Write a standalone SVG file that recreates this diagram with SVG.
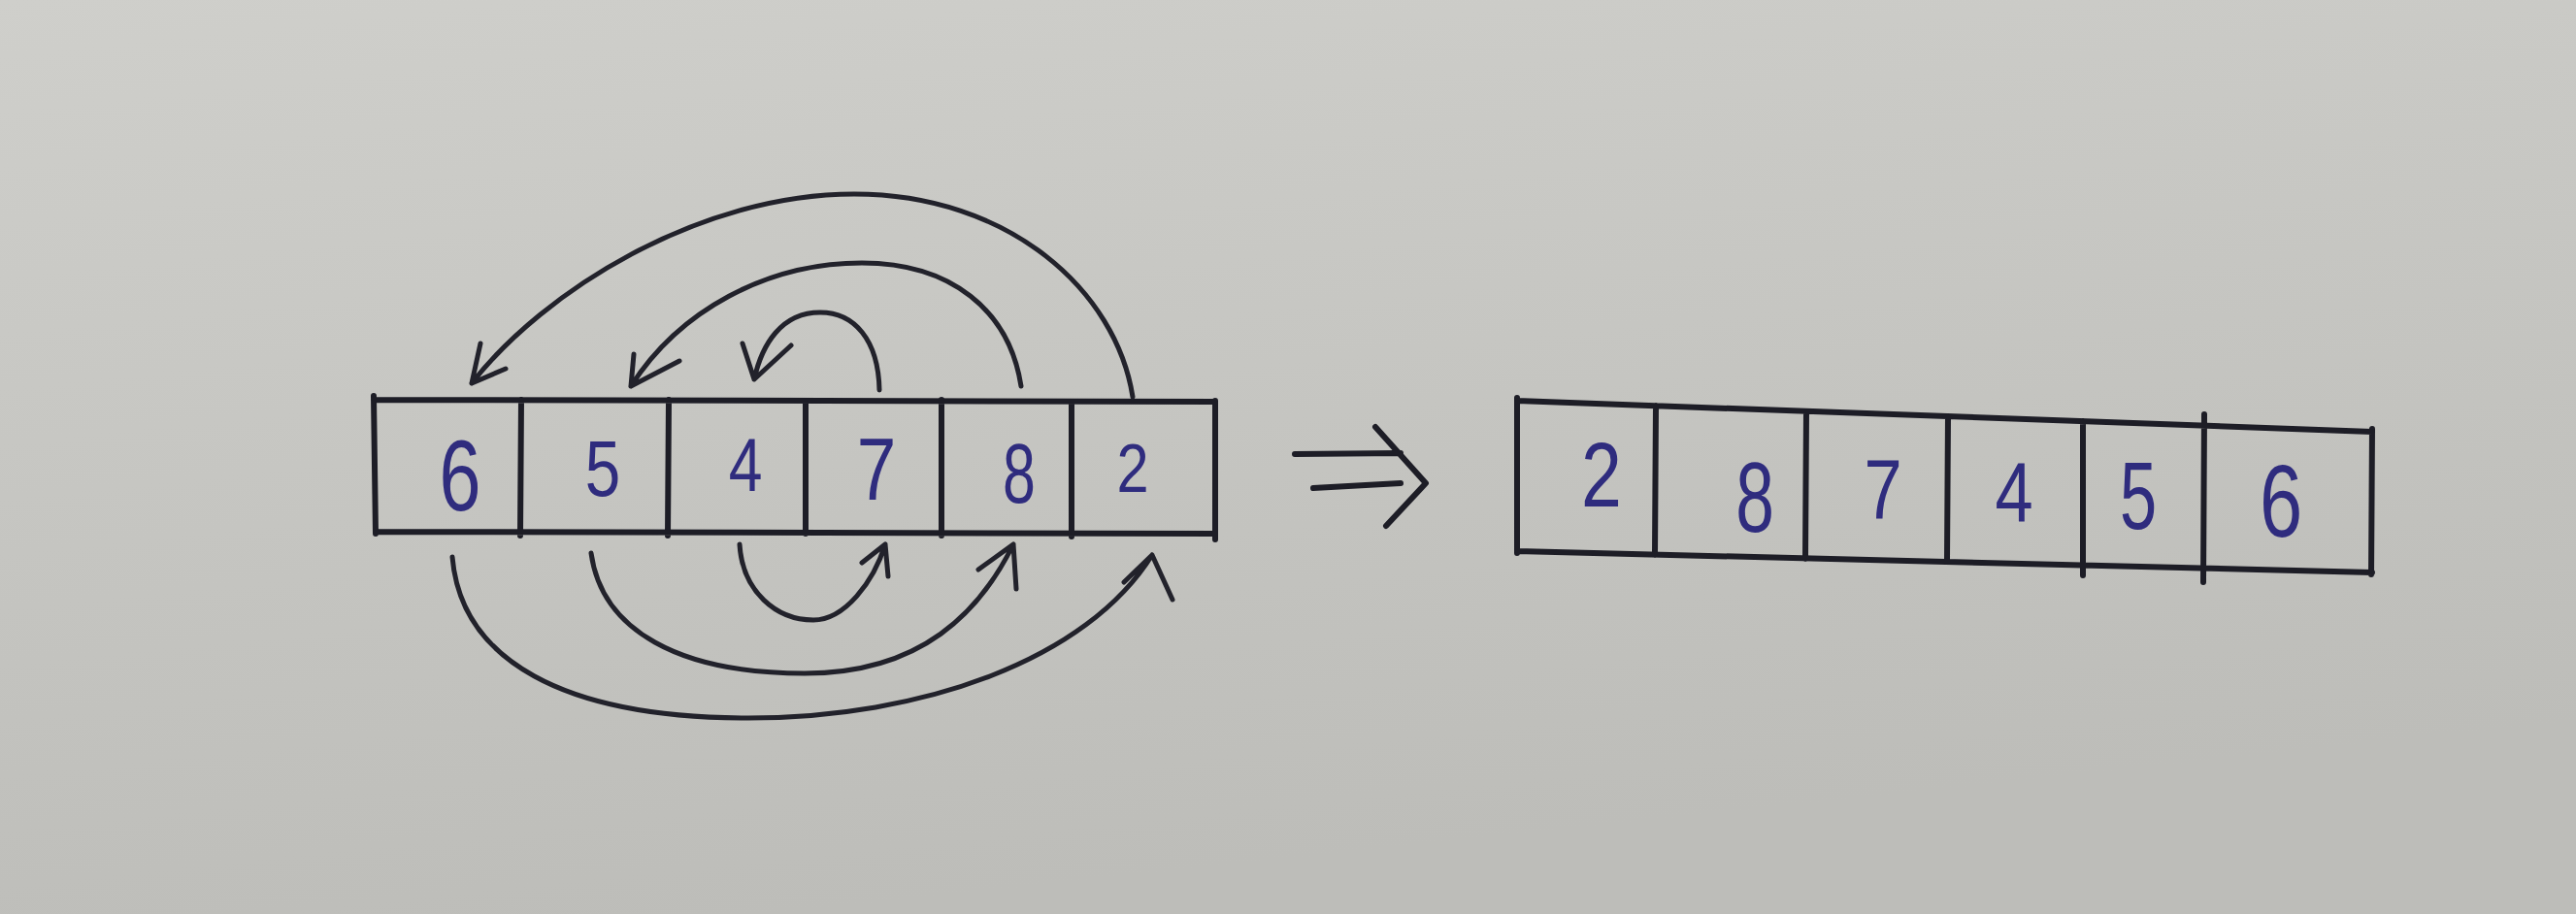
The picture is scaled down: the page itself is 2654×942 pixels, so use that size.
<svg xmlns="http://www.w3.org/2000/svg" width="2654" height="942" viewBox="0 0 2654 942">
<style>
.ink{fill:none;stroke:#1d1d26;stroke-width:6;stroke-linecap:round;stroke-linejoin:round}
.arc{fill:none;stroke:#22222b;stroke-width:5;stroke-linecap:round;stroke-linejoin:round}
.d{font-family:"Liberation Sans",Arial,sans-serif;fill:#2f2c7e;text-anchor:middle}
</style>
<defs>
<linearGradient id="bg" x1="0" y1="0" x2="0.3" y2="1">
<stop offset="0" stop-color="#cfcfcb"/>
<stop offset="1" stop-color="#bdbdb9"/>
</linearGradient>
</defs>
<rect width="2654" height="942" fill="url(#bg)"/>

<g id="left-array">
<path class="ink" d="M385,412 L1252,414 M387,548 L1252,550 M385,408 L387,550 M537,412 L536,552 M689,412 L688,552 M830,413 L830,550 M970,412 L970,552 M1104,414 L1104,553 M1252,413 L1252,556"/>
<text class="d" font-size="103" transform="translate(474,526) scale(0.75,1)">6</text>
<text class="d" font-size="82" transform="translate(621,511) scale(0.8,1)">5</text>
<text class="d" font-size="78" transform="translate(768,506) scale(0.8,1)">4</text>
<text class="d" font-size="91" transform="translate(903,515) scale(0.8,1)">7</text>
<text class="d" font-size="87" transform="translate(1050,518) scale(0.7,1)">8</text>
<text class="d" font-size="70" transform="translate(1167,507) scale(0.85,1)">2</text>
</g>

<g id="connectors">
<path class="arc" d="M1167,409 C1150,300 1040,200 880,200 C720,200 560,300 486,395 M495,354 L486,395 L521,380"/>
<path class="arc" d="M1052,398 C1040,320 980,271 888,271 C790,271 700,320 650,398 M653,365 L650,398 L700,372"/>
<path class="arc" d="M906,402 C905,350 880,322 845,322 C805,322 785,355 777,391 M765,354 L777,391 L815,356"/>
<path class="arc" d="M762,561 C765,610 800,639 838,639 C870,639 900,600 912,561 M888,580 L912,561 L915,594"/>
<path class="arc" d="M609,570 C620,650 700,694 829,694 C950,694 1010,630 1044,561 M1008,587 L1044,561 L1047,607"/>
<path class="arc" d="M466,574 C475,680 580,740 771,740 C950,740 1120,680 1187,572 M1158,600 L1187,572 L1208,618"/>
</g>

<g id="implies">
<path class="ink" d="M1334,468 L1443,467 M1353,503 L1443,498 M1417,440 L1469,498 L1428,542"/>
</g>

<g id="right-array">
<path class="ink" d="M1563,413 L2444,445 M1563,568 L2444,590 M1563,410 L1563,570 M1706,418 L1705,572 M1861,424 L1860,576 M2007,429 L2006,579 M2146,434 L2146,593 M2271,427 L2270,600 M2444,442 L2443,592"/>
<text class="d" font-size="94" transform="translate(1650,522) scale(0.8,1)">2</text>
<text class="d" font-size="102" transform="translate(1808,548) scale(0.7,1)">8</text>
<text class="d" font-size="88" transform="translate(1940,535) scale(0.8,1)">7</text>
<text class="d" font-size="88" transform="translate(2075,538) scale(0.8,1)">4</text>
<text class="d" font-size="98" transform="translate(2203,545) scale(0.7,1)">5</text>
<text class="d" font-size="106" transform="translate(2350,553) scale(0.75,1)">6</text>
</g>
</svg>
